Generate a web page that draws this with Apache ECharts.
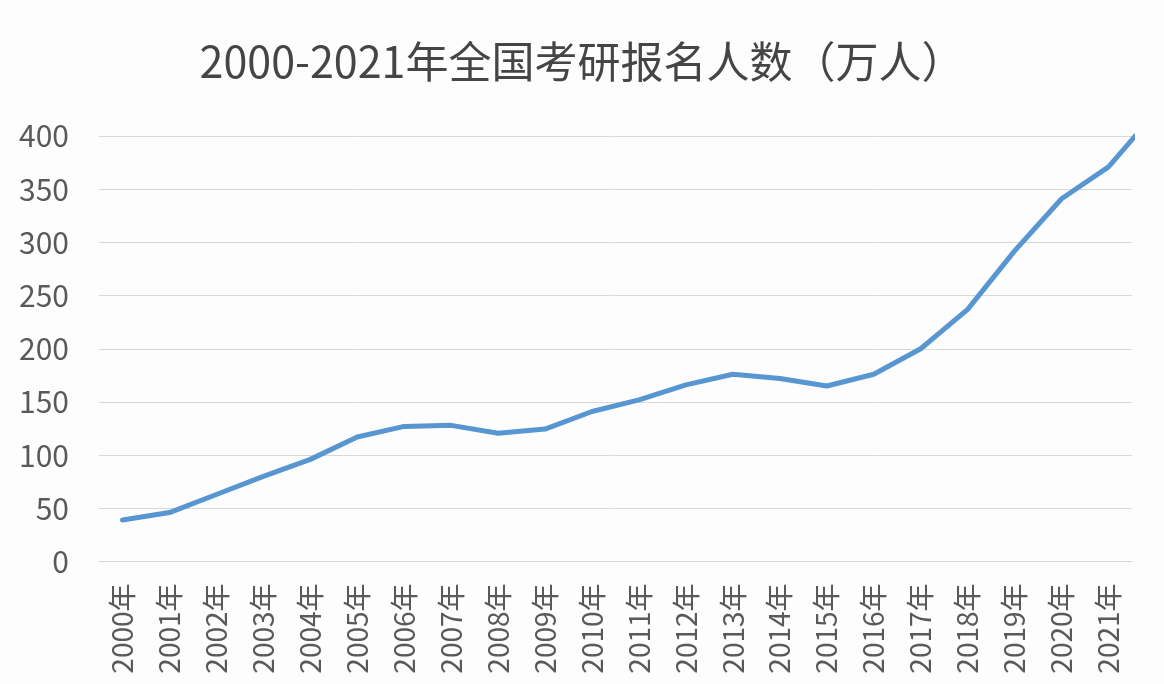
<!DOCTYPE html>
<html>
<head>
<meta charset="utf-8">
<script src="https://cdn.jsdelivr.net/npm/echarts@6/dist/echarts.min.js"></script>
<style>
html,body{margin:0;padding:0;background:#fdfdfd;}
#chart{width:1164px;height:684px;}
</style>
</head>
<body>
<div id="chart"></div>
<script>
// Categories (the last one lies beyond the visible axis; only its approach segment is seen at the right edge)
const years = ['2000年','2001年','2002年','2003年','2004年','2005年','2006年','2007年','2008年','2009年','2010年',
               '2011年','2012年','2013年','2014年','2015年','2016年','2017年','2018年','2019年','2020年','2021年','2022年'];
// 报名人数（万人）
const applicants = [39, 46, 63, 80, 96, 117, 127, 128, 120.5, 124.5, 141, 152, 166, 176, 172, 165, 176, 200, 237, 292, 341, 371, 422];
const yTicks = [0, 50, 100, 150, 200, 250, 300, 350, 400];
const titleText = '2000-2021年全国考研报名人数（万人）';

const chart = echarts.init(document.getElementById('chart'), null, {renderer: 'canvas'});
chart.setOption({
  backgroundColor: '#fdfdfd',
  animation: false,
  title: {
    text: titleText,
    left: 'center',
    top: 35,
    textStyle: {
      fontFamily: 'Noto Sans CJK SC',
      fontSize: 43,
      fontWeight: 'normal',
      color: '#454545'
    }
  },
  grid: {left: 99, right: 32, top: 136, bottom: 122.5},
  xAxis: {
    type: 'category',
    data: years,
    max: 21,
    boundaryGap: true,
    axisLine: {show: true, lineStyle: {color: '#d6d6d6', width: 1}},
    axisTick: {show: false},
    axisLabel: {
      interval: 0,
      rotate: 90,
      margin: 22,
      fontFamily: 'Noto Sans CJK SC',
      fontSize: 28,
      color: '#595959'
    }
  },
  yAxis: {
    type: 'value',
    min: yTicks[0],
    max: yTicks[yTicks.length - 1],
    interval: 50,
    axisLine: {show: false},
    axisTick: {show: false},
    splitLine: {lineStyle: {color: '#d9d9d9', width: 1}},
    axisLabel: {
      margin: 30,
      fontFamily: 'Noto Sans CJK SC',
      fontSize: 30,
      color: '#595959'
    }
  },
  series: [{
    type: 'line',
    data: applicants,
    clip: true,
    showSymbol: false,
    symbol: 'none',
    lineStyle: {color: '#5896d1', width: 5, join: 'round', cap: 'round'},
    itemStyle: {color: '#5896d1'}
  }]
});
</script>
</body>
</html>
